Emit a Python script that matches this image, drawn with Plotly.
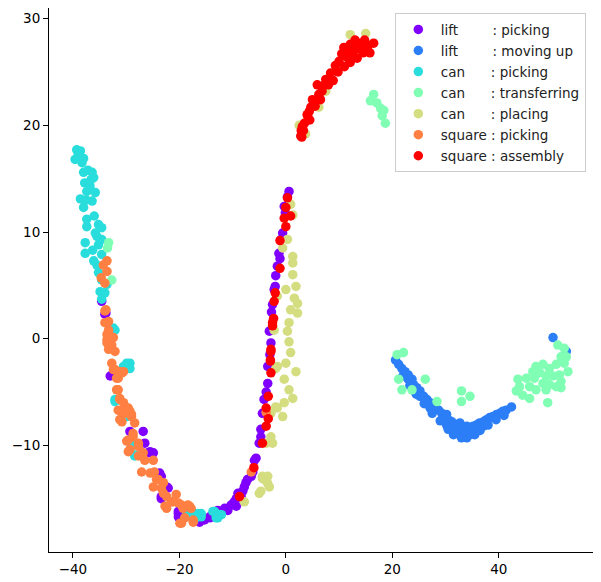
import plotly.graph_objects as go

# ---- data (t-SNE style 2D embedding) ----
labels = [
    "lift\u00a0\u00a0\u00a0\u00a0\u00a0\u00a0\u00a0\u00a0: picking",
    "lift\u00a0\u00a0\u00a0\u00a0\u00a0\u00a0\u00a0\u00a0: moving up",
    "can\u00a0\u00a0\u00a0\u00a0\u00a0\u00a0: picking",
    "can\u00a0\u00a0\u00a0\u00a0\u00a0\u00a0: transferring",
    "can\u00a0\u00a0\u00a0\u00a0\u00a0\u00a0: placing",
    "square : picking",
    "square : assembly",
]
colors = ["#8000ff", "#2c7ef7", "#2adddd", "#80ffb4", "#d4dd80", "#ff8042", "#ff0000"]

lift_picking = [
    (0.6, 13.8), (0.3, 13.3), (-0.3, 12.4), (-0.1, 11.8), (-0.6, 9.9), (-0.9, 9.3),
    (-1.3, 8.0), (-1.1, 7.5), (-1.6, 6.8), (-1.9, 5.9), (-2.2, 4.6), (-2.0, 4.9),
    (-2.5, 3.2), (-2.7, 2.5), (-3.1, 0.7), (-2.8, -0.4), (-3.0, -1.5), (-3.4, -2.6),
    (-3.4, -4.2), (-3.7, -5.0), (-4.1, -5.7), (-4.4, -7.0), (-4.7, -8.5), (-4.7, -9.2),
    (-5.0, -9.8), (-5.6, -11.2), (-5.9, -11.4), (-6.2, -12.5), (-6.5, -12.9), (-7.2, -13.2),
    (-7.5, -13.5), (-7.8, -13.9), (-8.1, -14.3), (-8.4, -14.8), (-9.0, -14.5), (-9.3, -15.0),
    (-9.7, -15.3), (-10.3, -15.6), (-9.3, -15.7), (-10.9, -16.1), (-11.5, -15.9),
    (-12.8, -16.1), (-14.3, -16.8), (-14.3, -16.7), (-15.3, -17.0), (-16.2, -17.2),
    (-20.2, -16.2), (-20.2, -16.7), (-20.2, -16.4), (-22.1, -14.0), (-23.4, -15.0),
    (-23.4, -14.8), (-22.4, -13.9), (-23.4, -12.9), (-23.7, -12.6), (-24.9, -10.7),
    (-25.9, -10.7), (-25.5, -10.6), (-26.5, -9.8), (-26.8, -8.7), (-29.3, -8.7),
    (-32.4, -3.4), (-33.0, -3.5), (-33.8, 2.4), (-34.0, 2.3), (-34.6, 3.5),
]

lift_moving_up = [
    (20.6, -2.0), (21.2, -2.4), (21.8, -2.8), (22.4, -3.1), (23.0, -3.4), (23.7, -3.8),
    (24.0, -4.3), (24.6, -4.6), (25.2, -4.9), (25.9, -5.4), (26.5, -5.7), (27.1, -6.0),
    (28.0, -6.4), (28.7, -6.7), (29.3, -7.0), (29.9, -7.3), (30.5, -7.6), (31.2, -7.8),
    (31.8, -8.1), (32.4, -8.4), (33.0, -8.7), (33.6, -8.5), (34.6, -8.7), (35.2, -8.2),
    (35.8, -8.1), (36.4, -7.9), (37.1, -7.8), (37.7, -7.6), (38.3, -7.4), (38.9, -7.3),
    (39.6, -7.1), (40.2, -7.0), (40.8, -6.8), (41.4, -6.7), (42.4, -6.4), (29.6, -7.6),
    (30.2, -8.1), (30.8, -8.4), (32.1, -8.9), (34.6, -9.0), (34.0, -8.2), (32.7, -7.9),
    (27.1, -6.5), (27.7, -6.7), (31.5, -8.5), (33.3, -9.0), (35.8, -8.5), (37.1, -8.2),
    (30.2, -7.1), (25.2, -5.4), (23.0, -3.8), (50.2, 0.1), (52.7, -1.2),
    (24.5, -5.2), (26.0, -6.1), (27.5, -7.0), (29.0, -7.7), (30.5, -8.5), (31.5, -9.0),
    (33.0, -9.3), (34.0, -9.3), (35.5, -9.0), (36.5, -8.6), (38.0, -8.1), (39.5, -7.6),
    (41.0, -7.2), (22.0, -3.5), (23.3, -4.4),
]

can_picking = [
    (-39.3, 17.7), (-38.6, 17.6), (-39.6, 16.8), (-38.3, 16.5), (-38.0, 15.6), (-36.4, 15.6),
    (-36.1, 15.1), (-37.8, 14.6), (-36.8, 14.3), (-35.8, 13.7), (-37.4, 13.8), (-38.6, 13.1),
    (-38.0, 12.3), (-36.4, 12.9), (-37.4, 11.2), (-37.4, 10.5), (-35.2, 10.7), (-34.6, 10.4),
    (-37.7, 9.0), (-35.5, 9.6), (-35.2, 8.8), (-34.6, 9.3), (-37.7, 8.0), (-36.1, 7.3),
    (-35.5, 6.9), (-34.6, 7.9), (-35.2, 6.2), (-34.6, 5.5), (-34.9, 4.4), (-34.0, 4.3),
    (-34.6, 3.7), (-33.6, 5.1), (-32.4, 1.0), (-32.1, 0.8), (-29.6, -2.4), (-30.5, -2.6),
    (-29.3, -2.3), (-29.9, -2.3), (-29.3, -2.8), (-32.1, -5.9), (-32.1, -5.7), (-29.9, -7.3),
    (-28.7, -10.0), (-28.4, -10.9), (-28.4, -11.0), (-29.0, -10.0), (-18.7, -16.2),
    (-18.4, -16.4), (-17.2, -16.4), (-16.5, -16.4), (-15.9, -16.4), (-15.9, -16.7),
    (-13.7, -16.2), (-13.4, -16.2), (-12.5, -16.5), (-12.1, -16.5), (-13.1, -16.8),
    (-12.8, -16.8), (-17.4, -17.0), (-17.2, -17.0),
    (-39.0, 17.2), (-38.0, 16.9), (-37.2, 15.8), (-36.6, 14.9), (-37.5, 13.0), (-36.0, 11.5),
    (-35.8, 9.9), (-36.3, 8.3),
]

can_transferring = [
    (-33.3, 9.0), (-33.5, 8.5), (-32.7, 5.5),
    (16.5, 22.9), (15.9, 22.3), (17.1, 22.1), (17.8, 21.6), (18.4, 21.4), (18.1, 20.9),
    (18.7, 20.2),
    (20.9, -1.5), (22.1, -1.3), (21.2, -3.8), (21.8, -4.8), (23.7, -4.8), (26.2, -3.8),
    (28.4, -5.9), (33.0, -4.9), (34.6, -5.4), (33.0, -5.9),
    (51.1, -0.6), (52.3, -0.9), (51.7, -1.7), (52.3, -2.3), (53.0, -3.1), (50.8, -2.4),
    (49.5, -2.8), (48.3, -2.4), (47.0, -2.6), (47.7, -3.2), (48.9, -3.5), (50.2, -3.5),
    (51.4, -3.4), (51.7, -4.0), (50.8, -4.5), (49.5, -4.3), (48.3, -4.2), (46.7, -3.7),
    (45.2, -3.7), (43.6, -3.8), (43.9, -4.5), (43.3, -4.9), (44.5, -5.3), (45.8, -5.6),
    (47.0, -4.8), (45.8, -4.5), (48.9, -4.8), (49.2, -6.0), (51.7, -4.6), (46.4, -3.1),
    (52.7, -1.7),
]

can_placing = [
    (0.9, 12.6), (1.3, 11.6), (0.3, 9.3), (-0.6, 8.5), (1.3, 7.7), (1.3, 7.1), (1.3, 6.0),
    (1.9, 4.9), (0.0, 4.6), (1.6, 3.8), (2.2, 3.3), (0.9, 2.7), (2.2, 2.4), (0.6, 1.5),
    (0.3, 0.7), (0.6, -0.3), (0.9, -1.3), (0.0, -2.3), (-1.9, -2.8), (1.9, -3.1),
    (-0.3, -3.8), (0.6, -4.8), (1.3, -5.6), (-0.3, -6.0), (-1.6, -6.5), (-0.6, -7.3),
    (-2.8, -7.0), (-2.8, -9.2), (-3.7, -9.8), (-4.4, -13.1), (-3.4, -13.6), (-5.0, -14.5),
    (-1.6, 4.0), (-1.6, -2.6), (-1.9, -6.4), (-2.2, 0.8), (-4.1, -13.2), (-3.4, -12.9),
    (-3.1, -13.9), (-4.7, -14.3), (-7.8, -15.3), (-2.5, -9.8), (-4.4, -12.9),
    (12.1, 28.5), (15.0, 28.6), (7.5, 23.2), (6.2, 21.7), (2.5, 20.0), (3.7, 19.2),
    (4.1, 20.6),
]

square_picking = [
    (-33.6, 7.3), (-34.3, 6.9), (-33.6, 6.3), (-34.7, 5.7), (-34.0, 5.2), (-33.8, 2.7),
    (-34.0, 1.5), (-33.3, 1.6), (-34.0, 2.6), (-33.3, 0.8), (-33.6, 0.4), (-32.4, 0.1),
    (-33.3, 0.5), (-33.6, -0.1), (-32.7, -0.6), (-33.6, -0.4), (-33.3, -1.0), (-32.1, -1.2),
    (-32.7, -2.3), (-32.1, -2.9), (-32.4, -2.9), (-31.2, -3.1), (-30.5, -3.1), (-30.8, -3.2),
    (-31.5, -3.7), (-31.8, -3.7), (-31.5, -4.8), (-31.8, -4.8), (-31.2, -5.6), (-31.2, -5.7),
    (-31.5, -6.7), (-30.5, -6.0), (-29.6, -6.5), (-30.2, -6.4), (-29.3, -6.8), (-29.0, -7.1),
    (-30.8, -7.0), (-29.0, -7.3), (-31.2, -7.6), (-30.8, -7.8), (-30.2, -7.0), (-28.4, -7.9),
    (-28.7, -8.9), (-29.9, -9.6), (-28.7, -9.2), (-29.6, -9.5), (-27.7, -9.8), (-29.3, -10.4),
    (-29.6, -10.6), (-27.7, -10.1), (-26.8, -10.7), (-27.7, -11.0), (-26.5, -11.4),
    (-27.1, -12.5), (-25.5, -12.6), (-24.9, -11.4), (-24.7, -12.5), (-24.3, -13.2),
    (-24.0, -13.2), (-24.9, -13.9), (-23.0, -13.5), (-23.4, -14.0), (-23.0, -14.5),
    (-22.4, -14.8), (-20.6, -14.6), (-21.2, -15.3), (-21.5, -15.3), (-22.4, -15.9),
    (-22.7, -15.7), (-20.2, -15.4), (-19.6, -15.6), (-19.3, -15.9), (-18.4, -15.6),
    (-18.1, -15.7), (-17.8, -15.9), (-19.0, -16.8), (-19.6, -17.3), (-19.9, -17.3),
    (-17.4, -17.0), (-17.4, -17.2), (-6.5, -12.5), (-3.7, -6.9),
]

square_assembly = [
    (0.3, 13.2), (0.0, 12.3), (-0.3, 11.3), (0.9, 11.5), (0.0, 10.5), (-1.1, 9.2),
    (-1.1, 6.6), (-2.0, 4.3), (-2.2, 3.5), (-2.3, 1.9), (-2.5, 1.2), (-2.5, 1.5),
    (-2.8, -1.0), (-2.8, -1.2), (-2.9, -2.0), (-2.9, -2.1), (-2.8, -3.2), (-3.3, -5.4),
    (-3.7, -6.5), (-3.3, -7.5), (-3.7, -8.2), (-4.4, -9.8), (-6.0, -12.1), (-8.7, -14.8),
    (2.8, 19.0), (2.9, 19.5), (3.1, 19.9), (3.3, 19.5), (4.1, 20.9), (4.4, 21.3),
    (4.5, 20.5), (4.7, 21.7), (5.0, 22.4), (5.5, 21.8), (6.2, 22.9), (6.5, 22.4),
    (5.9, 23.8), (7.0, 23.7), (7.5, 24.3), (8.4, 24.9), (8.9, 24.2), (9.3, 25.6),
    (9.8, 25.0), (10.0, 26.0), (11.0, 25.5), (11.2, 26.5), (10.9, 27.3), (12.1, 27.6),
    (13.1, 27.9), (12.8, 27.0), (14.0, 27.5), (15.0, 27.0), (13.4, 26.3), (12.1, 25.9),
    (16.5, 27.7), (11.5, 27.0), (12.5, 26.5), (13.5, 27.2), (14.5, 26.8), (15.5, 27.5),
    (13.0, 28.0), (14.8, 28.0), (15.8, 26.8), (11.8, 26.2), (10.5, 26.7), (8.0, 23.8),
    (6.8, 23.2), (4.0, 21.0), (3.5, 20.2), (3.0, 18.9),
]

series = [lift_picking, lift_moving_up, can_picking, can_transferring,
          can_placing, square_picking, square_assembly]

x_ticks = [-40, -20, 0, 20, 40]
y_ticks = [-10, 0, 10, 20, 30]

fig = go.Figure()
for i, (pts, name, col) in enumerate(zip(series, labels, colors)):
    fig.add_trace(go.Scatter(
        x=[p[0] for p in pts], y=[p[1] for p in pts],
        mode="markers", name=name, legendgroup=f"g{i}",
        marker=dict(color=col, size=9.5, line=dict(width=0)),
    ))

axis_common = dict(
    showgrid=False, zeroline=False, showline=True, linecolor="black", linewidth=1,
    mirror=True, ticks="outside", ticklen=5, tickwidth=1, tickcolor="black",
    tickfont=dict(family="DejaVu Sans", size=13.5, color="black"),
)

# the page body has an 8px margin, so the figure is shrunk by that offset
fig.update_layout(
    width=593, height=574,
    margin=dict(l=41, r=7, t=0, b=30),
    paper_bgcolor="white", plot_bgcolor="white",
    font=dict(family="DejaVu Sans", size=13.5, color="black"),
    xaxis=dict(range=[-44.5, 57.9], tickvals=x_ticks, ticktext=["\u221240", "\u221220", "0", "20", "40"], **axis_common),
    yaxis=dict(range=[-20.0, 31.0], tickvals=y_ticks, ticktext=["\u221210", "0", "10", "20", "30"], **axis_common),
    legend=dict(
        x=0.985, y=0.9905, xanchor="right", yanchor="top",
        bgcolor="rgba(255,255,255,0.8)", bordercolor="#cccccc", borderwidth=1,
        font=dict(family="DejaVu Sans", size=13.5, color="#222222"),
        traceorder="grouped", tracegroupgap=0.5, itemwidth=35,
    ),
    showlegend=True,
)

fig.write_html("out.html")
